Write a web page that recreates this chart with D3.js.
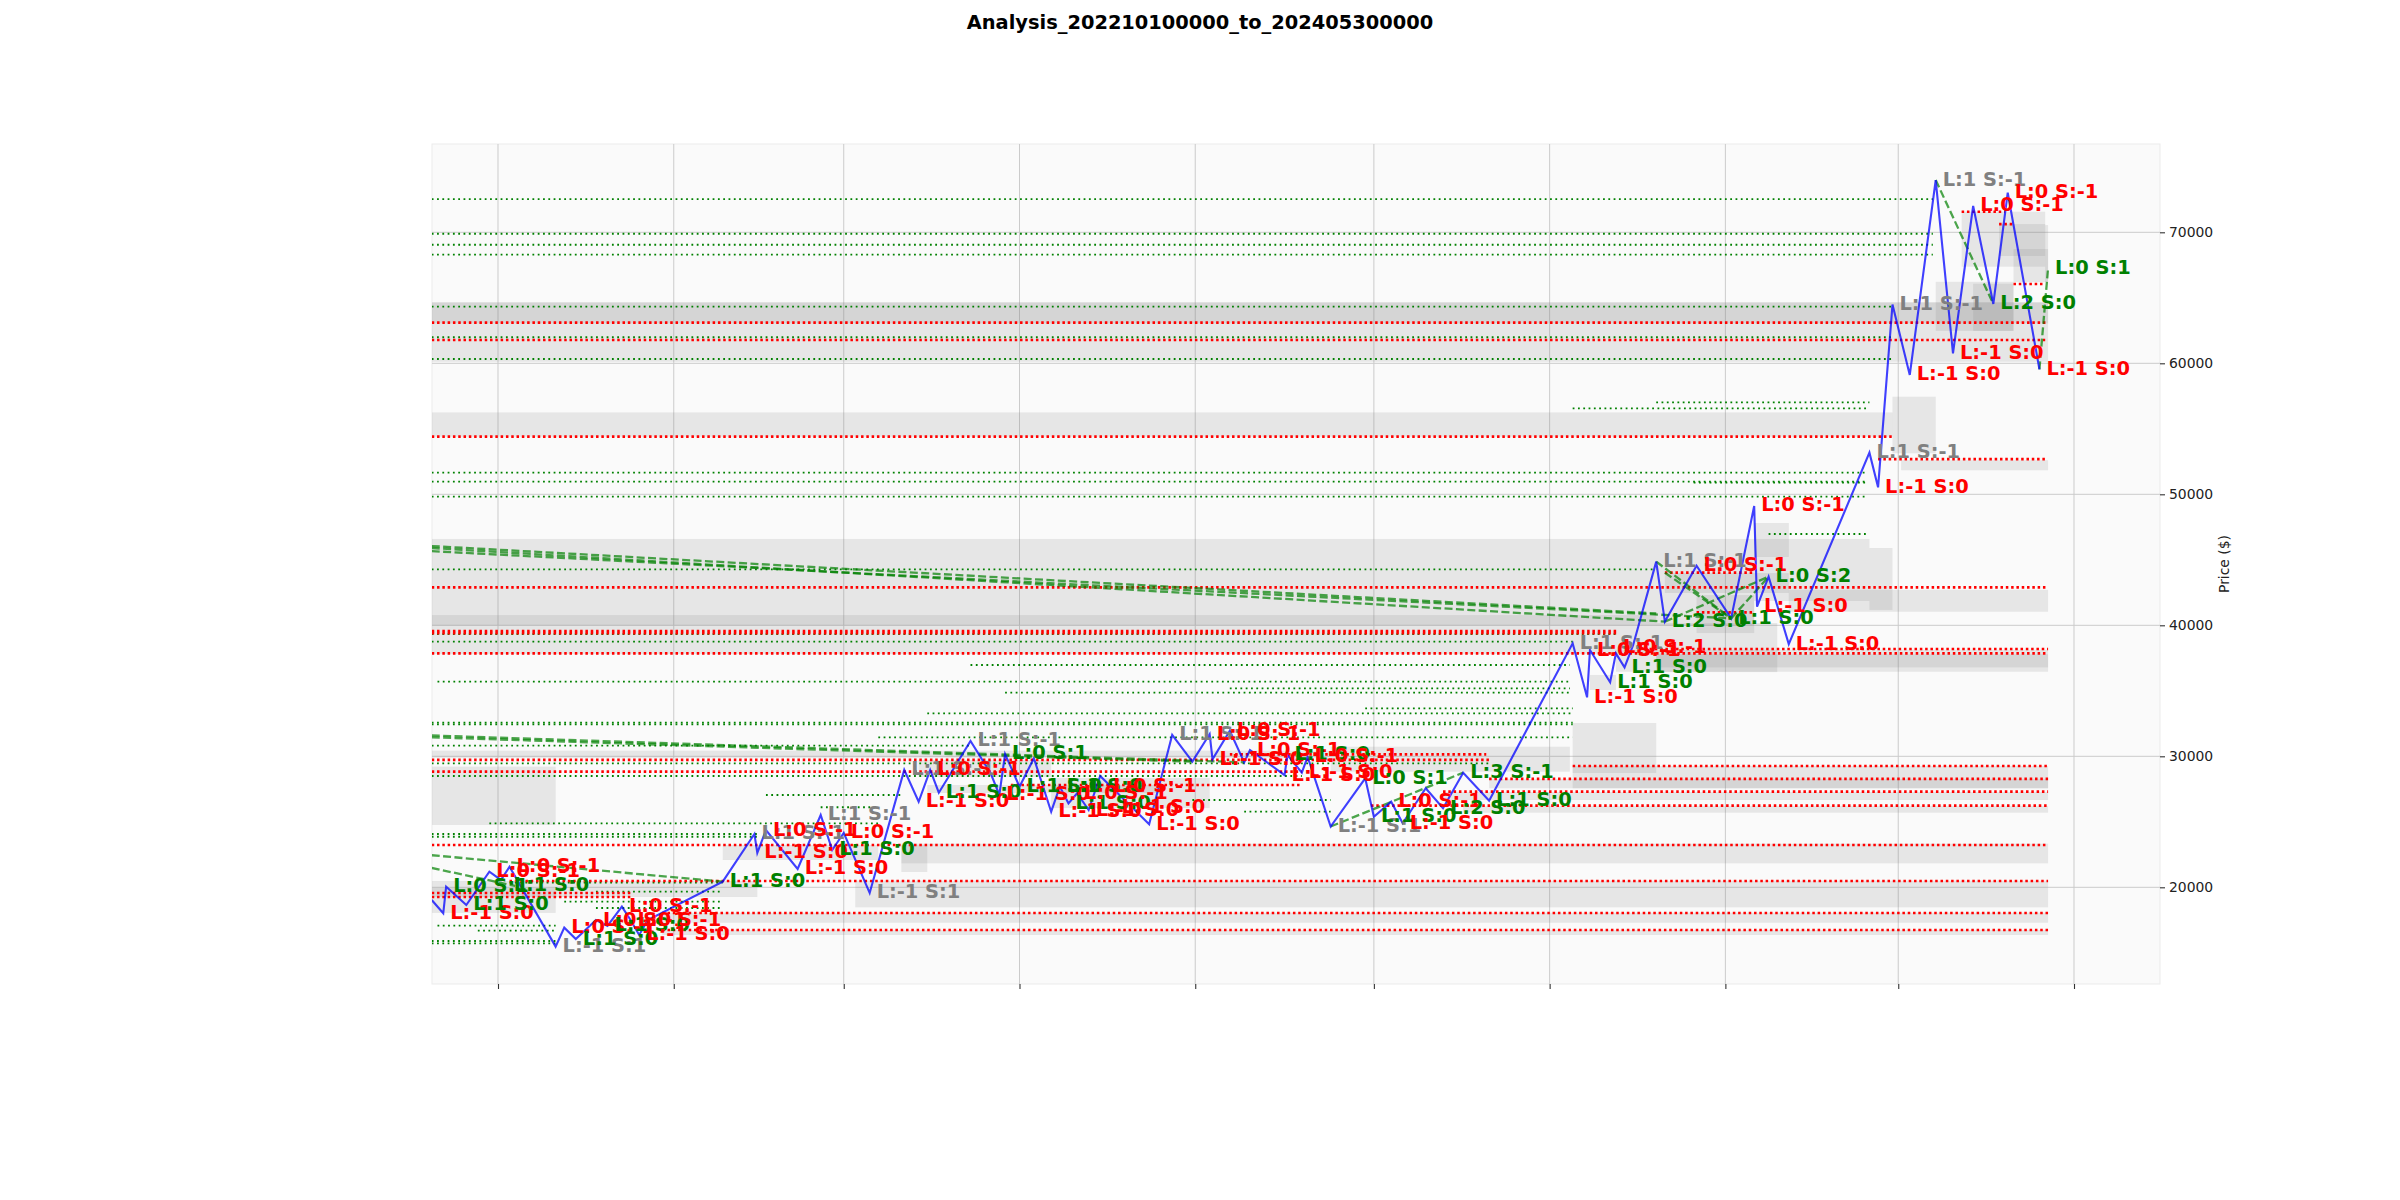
<!DOCTYPE html>
<html><head><meta charset="utf-8">
<script src="https://cdn.jsdelivr.net/npm/d3@7"></script>
<style>body{margin:0;background:#fff}svg{display:block}</style>
</head><body>
<svg id="chart" width="2400" height="1200"></svg>
<script>
const titleText = "Analysis_202210100000_to_202405300000";
const yTicks = [20000, 30000, 40000, 50000, 60000, 70000];
const yLabel = "Price ($)";

// Price swing line [date, price]
const pricePoints = [
 ["2022-10-09",19030],["2022-10-13",18015],["2022-10-14",20050],["2022-10-21",18650],["2022-10-29",21190],
 ["2022-11-02",20560],["2022-11-05",21570],["2022-11-21",15470],["2022-11-24",16920],["2022-11-28",16050],
 ["2022-12-05",17500],["2022-12-09",17050],["2022-12-14",18520],["2022-12-17",17500],["2022-12-20",16360],
 ["2022-12-23",17500],["2023-01-18",20430],["2023-01-29",24070],["2023-01-30",22620],["2023-02-02",24370],
 ["2023-02-13",21400],["2023-02-21",25520],["2023-02-25",22850],["2023-03-01",24150],["2023-03-10",19570],
 ["2023-03-22",28960],["2023-03-27",26530],["2023-03-31",28960],["2023-04-03",27220],["2023-04-08",29010],
 ["2023-04-14",31170],["2023-04-21",28700],["2023-04-24",27050],["2023-04-26",30180],["2023-05-01",27680],
 ["2023-05-06",29850],["2023-05-12",25770],["2023-05-15",27680],["2023-05-18",26410],["2023-05-21",27180],
 ["2023-05-25",25900],["2023-05-29",28500],["2023-06-15",24810],["2023-06-23",31630],["2023-06-30",29590],
 ["2023-07-06",31700],["2023-07-07",29770],["2023-07-13",31950],["2023-07-18",29540],["2023-07-20",30480],
 ["2023-08-01",28570],["2023-08-02",30100],["2023-08-07",28750],["2023-08-09",29970],["2023-08-17",24640],
 ["2023-08-29",28320],["2023-09-01",25390],["2023-09-07",26530],["2023-09-11",24890],["2023-09-19",27560],
 ["2023-09-25",26030],["2023-10-02",28750],["2023-10-11",26610],["2023-11-09",38630],["2023-11-14",34500],
 ["2023-11-15",38110],["2023-11-22",35650],["2023-11-24",37860],["2023-11-27",36790],["2023-11-30",38500],
 ["2023-12-08",44860],["2023-12-11",40280],["2023-12-22",44550],["2024-01-03",40530],["2024-01-11",49110],
 ["2024-01-12",41420],["2024-01-16",43710],["2024-01-23",38570],["2024-02-20",53180],["2024-02-23",50530],
 ["2024-02-28",64480],["2024-03-05",59110],["2024-03-14",73990],["2024-03-20",60760],["2024-03-27",72010],
 ["2024-04-03",64530],["2024-04-08",73020],["2024-04-19",59540]
];

// Gray zones [start, end, low, high]
const zones = [
 ["2022-10-09","2024-04-22",60120,64650],["2022-10-09","2024-04-22",63050,64650],
 ["2022-10-09","2024-02-28",54400,56250],["2024-02-28","2024-03-14",53130,57450],
 ["2022-10-09","2024-01-11",40000,46590],["2022-10-09","2023-12-08",37800,40780],
 ["2022-10-09","2022-11-21",24760,29210],["2024-01-23","2024-04-22",41040,42710],
 ["2023-11-24","2024-04-22",36460,38130],["2023-12-08","2024-04-22",36790,37790],
 ["2023-11-09","2024-04-22",27560,29260],["2023-10-11","2024-04-22",27560,28270],
 ["2023-09-25","2024-04-22",26665,27275],["2023-10-02","2024-04-22",25700,26210],
 ["2023-03-21","2024-04-22",21830,23330],["2023-03-05","2024-04-22",18470,20500],
 ["2022-12-28","2024-04-22",17300,18060],["2022-12-28","2024-04-22",16360,16740],
 ["2022-10-09","2023-08-17",29890,30430],["2023-08-17","2023-11-08",28825,30730],
 ["2023-11-09","2023-12-08",28725,32540],["2023-03-30","2023-06-19",27200,27810],
 ["2023-05-12","2023-07-06",26050,28340],["2023-03-27","2023-05-12",28420,29720],
 ["2022-10-09","2022-11-21",18045,19955],["2022-10-09","2023-01-30",19260,20480],
 ["2023-01-18","2023-03-13",22085,23230],["2023-03-21","2023-03-30",21170,23230],
 ["2024-03-23","2024-04-21",67375,71570],["2024-04-05","2024-04-21",68190,70630],
 ["2024-04-21","2024-04-22",66200,70550],["2024-04-10","2024-04-22",66200,68720],
 ["2024-03-14","2024-04-10",62480,66220],["2024-03-27","2024-04-10",62480,66070],
 ["2024-03-02","2024-04-22",51835,52600],["2024-01-11","2024-01-23",45215,47810],
 ["2024-01-11","2024-02-20",41855,46590],["2024-02-20","2024-02-28",41170,45900],
 ["2023-12-11","2024-01-23",42465,43990],["2023-12-22","2024-01-11",39410,42310],
 ["2023-12-08","2024-01-19",36430,40170],["2023-11-15","2023-11-24",35060,36210]
];

// Green dotted levels [start, end, price]
const greenLevels = [
 ["2022-10-09","2024-03-13",72540],["2022-10-09","2024-03-13",69890],["2022-10-09","2024-03-13",69050],
 ["2022-10-09","2024-03-13",68290],["2022-10-09","2024-02-28",64320],["2022-10-09","2024-02-28",61990],
 ["2022-10-09","2024-02-28",60330],["2023-12-08","2024-02-20",57020],["2023-11-09","2024-02-20",56560],
 ["2022-10-09","2024-02-19",51650],["2022-10-09","2024-02-19",50960],["2023-12-21","2024-02-19",50890],
 ["2022-10-09","2024-02-19",49820],["2024-01-16","2024-02-19",46970],["2022-10-09","2023-12-08",44275],
 ["2022-10-09","2023-11-25",39320],["2022-10-09","2023-11-09",38750],["2023-04-14","2023-11-08",36970],
 ["2022-10-11","2023-11-08",35695],["2023-07-13","2023-11-08",35190],["2023-04-26","2023-11-08",34855],
 ["2023-08-29","2023-11-09",33665],["2023-03-30","2023-11-09",33280],["2022-10-09","2023-11-09",32565],
 ["2022-10-09","2023-11-09",32440],["2023-03-13","2023-11-09",31450],["2022-10-09","2023-04-14",30810],
 ["2022-10-09","2023-10-11",29466],["2022-10-09","2023-08-07",28496],["2023-02-02","2023-03-21",27045],
 ["2023-06-30","2023-08-17",26665],["2023-02-21","2023-03-13",26110],["2023-07-18","2023-08-17",25770],
 ["2022-10-29","2023-03-13",24885],["2022-10-09","2023-01-31",24070],["2022-10-09","2023-01-31",23860],
 ["2022-11-05","2023-01-18",20350],["2022-12-05","2023-01-18",19665],["2022-11-24","2023-01-18",18900],
 ["2022-12-05","2023-01-18",18420],["2022-10-11","2022-11-21",17070],["2022-10-25","2022-11-21",16690],
 ["2022-10-09","2022-11-21",15900],["2022-10-09","2022-11-21",15725]
];

// Red dotted levels [start, end, price]
const redLevels = [
 ["2022-10-09","2024-04-22",63100],["2022-10-09","2024-04-21",61780],["2024-03-23","2024-04-07",71570],
 ["2024-04-05","2024-04-10",70630],["2024-04-10","2024-04-21",66055],["2022-10-09","2024-02-28",54400],
 ["2024-02-23","2024-04-21",52690],["2022-10-09","2024-04-22",42900],["2023-12-11","2024-01-11",44015],
 ["2022-10-09","2023-11-25",39565],["2022-10-09","2023-11-25",39400],["2023-12-02","2024-04-22",38190],
 ["2022-10-09","2024-04-22",37850],["2023-12-22","2024-01-11",40990],["2022-10-09","2023-10-11",29720],
 ["2023-07-13","2023-10-10",30150],["2022-10-09","2023-08-07",28825],["2023-11-09","2024-04-22",29260],
 ["2023-10-11","2024-04-22",28270],["2023-09-25","2024-04-22",27300],["2023-08-31","2024-04-22",26230],
 ["2023-04-28","2023-08-07",27810],["2022-10-09","2024-04-22",23230],["2022-11-05","2024-04-22",20480],
 ["2022-12-28","2024-04-22",18040],["2022-12-28","2024-04-22",16740],["2022-10-09","2022-12-17",19565],
 ["2022-10-09","2022-12-17",19260]
];

// Green dashed trend lines [d1, p1, d2, p2]
const trendLines = [
 ["2022-10-09",45900,"2023-12-11",40280],["2022-10-09",45660,"2024-01-03",40530],
 ["2022-10-09",46050,"2023-12-08",40900],
 ["2022-10-09",31590,"2023-07-18",29540],["2022-10-09",31450,"2023-06-30",29590],
 ["2022-10-09",22450,"2023-01-18",20430],["2022-10-09",21480,"2022-11-07",20100],
 ["2023-12-08",44860,"2024-01-03",40530],["2023-12-11",40280,"2024-01-16",43710],
 ["2024-01-03",40530,"2024-01-16",43710],["2023-12-11",44015,"2024-01-03",40530],
 ["2024-03-14",73990,"2024-04-03",64530],["2024-04-19",59540,"2024-04-22",67250],
 ["2023-08-17",24640,"2023-10-02",28750]
];

// Signal labels [date, price, text, colour]
const labels = [
 ["2022-10-13",18015,"L:-1 S:0","red"],["2022-10-14",20050,"L:0 S:1","green"],
 ["2022-10-21",18650,"L:1 S:0","green"],["2022-10-29",21190,"L:0 S:-1","red"],
 ["2022-11-04",20110,"L:1 S:0","green"],["2022-11-05",21570,"L:0 S:-1","red"],
 ["2022-11-21",15470,"L:-1 S:1","gray"],["2022-11-24",16920,"L:0 S:-1","red"],
 ["2022-11-28",16050,"L:1 S:0","green"],["2022-12-05",17500,"L:0 S:-1","red"],
 ["2022-12-09",17050,"L:1 S:0","green"],["2022-12-14",18520,"L:0 S:-1","red"],
 ["2022-12-17",17500,"L:0 S:-1","red"],["2022-12-20",16360,"L:-1 S:0","red"],
 ["2023-01-18",20430,"L:1 S:0","green"],["2023-01-29",24070,"L:1 S:-1","gray"],
 ["2023-01-30",22620,"L:-1 S:0","red"],["2023-02-02",24370,"L:0 S:-1","red"],
 ["2023-02-13",21400,"L:-1 S:0","red"],["2023-02-21",25520,"L:1 S:-1","gray"],
 ["2023-02-25",22850,"L:1 S:0","green"],["2023-03-01",24150,"L:0 S:-1","red"],
 ["2023-03-10",19570,"L:-1 S:1","gray"],["2023-03-22",28960,"L:1 S:-1","gray"],
 ["2023-03-27",26530,"L:-1 S:0","red"],["2023-03-31",28960,"L:0 S:-1","red"],
 ["2023-04-03",27220,"L:1 S:0","green"],["2023-04-14",31170,"L:1 S:-1","gray"],
 ["2023-04-24",27050,"L:-1 S:0","red"],["2023-04-26",30180,"L:0 S:1","green"],
 ["2023-05-01",27680,"L:1 S:0","green"],["2023-05-12",25770,"L:-1 S:0","red"],
 ["2023-05-15",27680,"L:1 S:0","green"],["2023-05-18",26410,"L:1 S:0","green"],
 ["2023-05-21",27180,"L:0 S:-1","red"],["2023-05-25",25900,"L:-1 S:0","red"],
 ["2023-05-31",27700,"L:0 S:-1","red"],["2023-06-03",26070,"L:-1 S:0","red"],
 ["2023-06-15",24810,"L:-1 S:0","red"],["2023-06-23",31630,"L:1 S:-1","gray"],
 ["2023-07-06",31700,"L:0 S:-1","red"],["2023-07-07",29770,"L:-1 S:0","red"],
 ["2023-07-13",31950,"L:0 S:-1","red"],["2023-07-20",30480,"L:0 S:-1","red"],
 ["2023-08-01",28570,"L:-1 S:0","red"],["2023-08-02",30100,"L:1 S:0","green"],
 ["2023-08-07",28750,"L:-1 S:0","red"],["2023-08-09",29970,"L:0 S:-1","red"],
 ["2023-08-17",24640,"L:-1 S:1","gray"],["2023-08-29",28320,"L:0 S:1","green"],
 ["2023-09-01",25390,"L:1 S:0","green"],["2023-09-07",26530,"L:0 S:-1","red"],
 ["2023-09-11",24890,"L:-1 S:0","red"],["2023-09-25",26030,"L:2 S:0","green"],
 ["2023-10-02",28750,"L:3 S:-1","green"],["2023-10-11",26610,"L:1 S:0","green"],
 ["2023-11-09",38630,"L:1 S:-1","gray"],["2023-11-14",34500,"L:-1 S:0","red"],
 ["2023-11-15",38110,"L:0 S:-1","red"],["2023-11-22",35650,"L:1 S:0","green"],
 ["2023-11-24",38300,"L:0 S:-1","red"],["2023-11-27",36790,"L:1 S:0","green"],
 ["2023-12-08",44860,"L:1 S:-1","gray"],["2023-12-11",40280,"L:2 S:0","green"],
 ["2023-12-22",44550,"L:0 S:-1","red"],["2024-01-03",40530,"L:1 S:0","green"],
 ["2024-01-11",49110,"L:0 S:-1","red"],["2024-01-12",41420,"L:-1 S:0","red"],
 ["2024-01-16",43710,"L:0 S:2","green"],["2024-01-23",38570,"L:-1 S:0","red"],
 ["2024-02-20",53180,"L:1 S:-1","gray"],["2024-02-23",50530,"L:-1 S:0","red"],
 ["2024-02-28",64480,"L:1 S:-1","gray"],["2024-03-05",59110,"L:-1 S:0","red"],
 ["2024-03-14",73990,"L:1 S:-1","gray"],["2024-03-20",60760,"L:-1 S:0","red"],
 ["2024-03-27",72010,"L:0 S:-1","red"],["2024-04-03",64530,"L:2 S:0","green"],
 ["2024-04-08",73020,"L:0 S:-1","red"],["2024-04-19",59540,"L:-1 S:0","red"],
 ["2024-04-22",67250,"L:0 S:1","green"]
];

const parse = d3.utcParse("%Y-%m-%d");
const plot = {left: 432, right: 2160, top: 144, bottom: 984};
const x = d3.scaleUtc().domain([parse("2022-11-01"), parse("2024-05-01")]).range([498, 2074]);
const y = d3.scaleLinear().domain([20000, 70000]).range([887.3, 232.3]);
const colours = {red: "#ff0000", green: "#008000", gray: "#808080"};

const svg = d3.select("#chart");
svg.append("defs").append("clipPath").attr("id", "clip")
  .append("rect").attr("x", plot.left).attr("y", plot.top)
  .attr("width", plot.right - plot.left).attr("height", plot.bottom - plot.top);

svg.append("rect").attr("x", plot.left).attr("y", plot.top)
  .attr("width", plot.right - plot.left).attr("height", plot.bottom - plot.top)
  .attr("fill", "#fafafa").attr("stroke", "#ebebeb").attr("stroke-width", 1);

svg.append("text").attr("x", 1200).attr("y", 29).attr("text-anchor", "middle")
  .attr("font-family", "DejaVu Sans").attr("font-weight", "bold").attr("font-size", 19.4)
  .attr("fill", "#000").text(titleText);

const xTicks = x.ticks(d3.utcMonth.every(2));
const grid = svg.append("g").attr("clip-path", "url(#clip)");
grid.selectAll("line.vx").data(xTicks).join("line")
  .attr("x1", d => x(d)).attr("x2", d => x(d)).attr("y1", plot.top).attr("y2", plot.bottom)
  .attr("stroke", "#cbcbcb").attr("stroke-width", 1);
grid.selectAll("line.hy").data(yTicks).join("line")
  .attr("x1", plot.left).attr("x2", plot.right).attr("y1", d => y(d)).attr("y2", d => y(d))
  .attr("stroke", "#cbcbcb").attr("stroke-width", 1);

const g = svg.append("g").attr("clip-path", "url(#clip)");

g.selectAll("rect.zone").data(zones).join("rect")
  .attr("x", d => x(parse(d[0]))).attr("width", d => x(parse(d[1])) - x(parse(d[0])))
  .attr("y", d => y(d[3])).attr("height", d => y(d[2]) - y(d[3]))
  .attr("fill", "#808080").attr("fill-opacity", 0.17);

g.selectAll("line.green").data(greenLevels).join("line")
  .attr("x1", d => x(parse(d[0]))).attr("x2", d => x(parse(d[1])))
  .attr("y1", d => y(d[2])).attr("y2", d => y(d[2]))
  .attr("stroke", colours.green).attr("stroke-width", 1.8).attr("stroke-dasharray", "1.8,3.5");

g.selectAll("line.red").data(redLevels).join("line")
  .attr("x1", d => x(parse(d[0]))).attr("x2", d => x(parse(d[1])))
  .attr("y1", d => y(d[2])).attr("y2", d => y(d[2]))
  .attr("stroke", colours.red).attr("stroke-width", 2.7).attr("stroke-dasharray", "2.5,2.8");

g.selectAll("line.trend").data(trendLines).join("line")
  .attr("x1", d => x(parse(d[0]))).attr("y1", d => y(d[1]))
  .attr("x2", d => x(parse(d[2]))).attr("y2", d => y(d[3]))
  .attr("stroke", colours.green).attr("stroke-opacity", 0.7)
  .attr("stroke-width", 2.3).attr("stroke-dasharray", "8,3.4");

const line = d3.line().x(d => x(parse(d[0]))).y(d => y(d[1]));
g.append("path").datum(pricePoints).attr("d", line)
  .attr("fill", "none").attr("stroke", "#0000ff").attr("stroke-opacity", 0.75)
  .attr("stroke-width", 2.1).attr("stroke-linejoin", "miter");

g.selectAll("text.lbl").data(labels).join("text")
  .attr("x", d => x(parse(d[0])) + 7).attr("y", d => y(d[1]) + 5.5)
  .attr("font-family", "DejaVu Sans").attr("font-weight", "bold").attr("font-size", 19.4)
  .attr("fill", d => colours[d[3]]).text(d => d[2]);

// right y axis
const yAxis = svg.append("g").attr("transform", `translate(${plot.right},0)`)
  .call(d3.axisRight(y).tickValues(yTicks).tickSize(5).tickPadding(4).tickFormat(d3.format("d")));
yAxis.select(".domain").remove();
yAxis.selectAll("line").attr("stroke", "#333").attr("stroke-width", 1.1);
yAxis.selectAll("text").attr("font-family", "DejaVu Sans").attr("font-size", 13.9).attr("fill", "#222");

// bottom ticks (no labels)
const xAxis = svg.append("g").attr("transform", `translate(0,${plot.bottom})`)
  .call(d3.axisBottom(x).tickValues(xTicks).tickSize(5).tickFormat(""));
xAxis.select(".domain").remove();
xAxis.selectAll("line").attr("stroke", "#333").attr("stroke-width", 1.1);

svg.append("text").attr("transform", `translate(2229,${(plot.top + plot.bottom) / 2}) rotate(-90)`)
  .attr("text-anchor", "middle").attr("font-family", "DejaVu Sans").attr("font-size", 13.9)
  .attr("fill", "#222").text(yLabel);
</script>
</body></html>
